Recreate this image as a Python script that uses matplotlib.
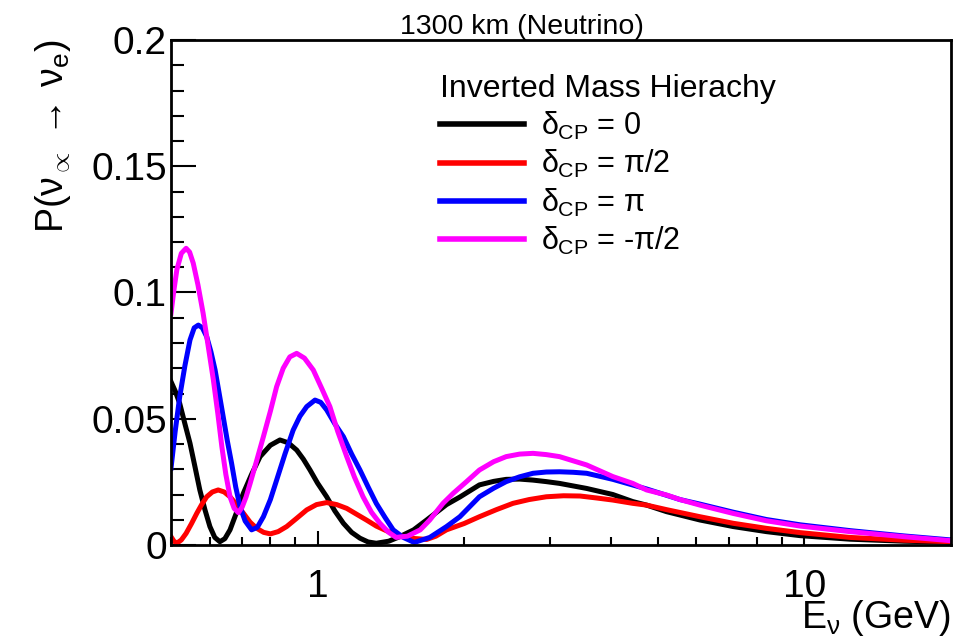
import matplotlib
matplotlib.use('Agg')
import matplotlib.pyplot as plt
import matplotlib.ticker as ticker

# values (E in GeV, probability)
e_black = [0.5, 0.51, 0.521, 0.534, 0.547, 0.56, 0.573, 0.587, 0.601, 0.615, 0.63, 0.645, 0.661, 0.682,
           0.704, 0.732, 0.762, 0.80, 0.837, 0.87, 0.906, 0.935, 0.965, 1.0, 1.044, 1.085, 1.13, 1.175,
           1.222, 1.27, 1.32, 1.4, 1.475, 1.575, 1.675, 1.84, 1.96, 2.15, 2.3, 2.44, 2.6, 2.77, 2.95,
           3.14, 3.57, 4.04, 4.44, 4.74, 5.21, 6.1, 7.14, 8.35, 9.8, 12.4, 16.0, 20.0]
p_black = [0.0647, 0.061, 0.0561, 0.048, 0.0403, 0.031, 0.0218, 0.014, 0.0073, 0.003, 0.0013, 0.0025,
           0.006, 0.013, 0.0205, 0.028, 0.035, 0.0395, 0.0416, 0.0405, 0.0376, 0.034, 0.0297, 0.0245,
           0.0191, 0.0135, 0.0086, 0.005, 0.0027, 0.0012, 0.0007, 0.0015, 0.0033, 0.006, 0.0099, 0.016,
           0.019, 0.0238, 0.0252, 0.026, 0.0261, 0.0257, 0.0251, 0.0244, 0.0224, 0.0200, 0.0172, 0.0158,
           0.0132, 0.0099, 0.0073, 0.0053, 0.0037, 0.0023, 0.0015, 0.0011]

e_red = [0.5, 0.507, 0.514, 0.525, 0.537, 0.551, 0.565, 0.578, 0.592, 0.608, 0.625, 0.643, 0.661, 0.682,
         0.704, 0.727, 0.75, 0.775, 0.80, 0.83, 0.864, 0.905, 0.95, 0.995, 1.044, 1.095, 1.148, 1.2, 1.26,
         1.32, 1.39, 1.47, 1.55, 1.675, 1.75, 1.84, 2.0, 2.15, 2.33, 2.52, 2.72, 2.95, 3.2, 3.46, 3.75,
         4.04, 4.44, 4.74, 5.21, 6.1, 7.14, 8.35, 9.8, 12.4, 16.0, 20.0]
p_red = [0.0033, 0.0015, 0.0007, 0.002, 0.0046, 0.0085, 0.0126, 0.016, 0.0191, 0.021, 0.0218, 0.021,
         0.0191, 0.016, 0.0126, 0.009, 0.0066, 0.005, 0.0044, 0.0053, 0.0073, 0.0105, 0.0139, 0.016,
         0.0168, 0.016, 0.0145, 0.0123, 0.0099, 0.0075, 0.0055, 0.0038, 0.0027, 0.0022, 0.0035, 0.006,
         0.0085, 0.0112, 0.014, 0.0165, 0.018, 0.0191, 0.0195, 0.0194, 0.0186, 0.0178, 0.0165, 0.0158,
         0.0140, 0.0112, 0.0086, 0.0066, 0.0049, 0.0030, 0.0019, 0.0013]

e_blue = [0.5, 0.51, 0.521, 0.534, 0.547, 0.558, 0.569, 0.58, 0.592, 0.604, 0.616, 0.628, 0.64, 0.653,
          0.666, 0.679, 0.693, 0.71, 0.732, 0.752, 0.774, 0.80, 0.824, 0.857, 0.891, 0.92, 0.95, 0.988,
          1.015, 1.044, 1.085, 1.13, 1.175, 1.222, 1.27, 1.32, 1.375, 1.43, 1.5, 1.58, 1.7, 1.84, 1.96,
          2.15, 2.3, 2.44, 2.6, 2.77, 2.95, 3.14, 3.35, 3.57, 3.8, 4.04, 4.74, 5.55, 6.1, 7.14, 8.35,
          9.8, 12.4, 16.0, 20.0]
p_blue = [0.0304, 0.045, 0.0587, 0.071, 0.0812, 0.086, 0.0871, 0.086, 0.0825, 0.0765, 0.0693, 0.060,
          0.0508, 0.041, 0.0323, 0.023, 0.0152, 0.0095, 0.006, 0.007, 0.0112, 0.018, 0.0257, 0.036,
          0.0455, 0.051, 0.0548, 0.0574, 0.0565, 0.0535, 0.048, 0.0429, 0.036, 0.0297, 0.023, 0.0165,
          0.011, 0.006, 0.003, 0.001, 0.003, 0.0073, 0.0112, 0.0191, 0.0225, 0.0251, 0.027, 0.0284,
          0.0289, 0.029, 0.0288, 0.0284, 0.0272, 0.0260, 0.0222, 0.0180, 0.0162, 0.0130, 0.0101, 0.0080,
          0.0057, 0.0036, 0.0020]

e_mag = [0.5, 0.507, 0.514, 0.525, 0.537, 0.546, 0.5555, 0.568, 0.582, 0.597, 0.611, 0.624, 0.636, 0.648,
         0.661, 0.674, 0.6875, 0.70, 0.713, 0.727, 0.75, 0.774, 0.80, 0.824, 0.85, 0.877, 0.906, 0.94,
         0.98, 1.02, 1.06, 1.10, 1.148, 1.19, 1.24, 1.29, 1.343, 1.40, 1.45, 1.53, 1.625, 1.70, 1.81,
         1.90, 2.02, 2.15, 2.3, 2.44, 2.6, 2.77, 2.95, 3.14, 3.57, 4.04, 4.44, 4.74, 5.21, 5.55, 6.1,
         7.14, 8.35, 9.8, 12.4, 16.0, 20.0]
p_mag = [0.0918, 0.101, 0.109, 0.1155, 0.1175, 0.116, 0.1116, 0.103, 0.0918, 0.078, 0.0653, 0.052,
         0.0389, 0.028, 0.0191, 0.0145, 0.0128, 0.015, 0.019, 0.0244, 0.0335, 0.0429, 0.053, 0.0627,
         0.070, 0.0745, 0.0759, 0.074, 0.0693, 0.062, 0.0548, 0.045, 0.035, 0.027, 0.0191, 0.013,
         0.0086, 0.005, 0.0030, 0.0035, 0.006, 0.0099, 0.0165, 0.0205, 0.025, 0.0297, 0.033, 0.035,
         0.036, 0.0363, 0.0358, 0.035, 0.0317, 0.0271, 0.0244, 0.0218, 0.0198, 0.0180, 0.0158, 0.0125,
         0.0096, 0.0075, 0.0053, 0.0033, 0.0017]

labels = [r'$\delta_{\rm CP}$ = 0', r'$\delta_{\rm CP}$ = $\pi$/2', r'$\delta_{\rm CP}$ = $\pi$',
          r'$\delta_{\rm CP}$ = -$\pi$/2']
colors = ['black', 'red', 'blue', 'magenta']

plt.rcParams['font.family'] = ['Liberation Sans', 'DejaVu Sans']
plt.rcParams['mathtext.fontset'] = 'custom'
plt.rcParams['mathtext.rm'] = 'Liberation Sans'
plt.rcParams['mathtext.it'] = 'Liberation Sans'
plt.rcParams['mathtext.bf'] = 'Liberation Sans:bold'
plt.rcParams['mathtext.sf'] = 'Liberation Sans'

fig = plt.figure(figsize=(9.63, 6.4), dpi=100)
ax = fig.add_axes([171 / 963, 95 / 640, 780 / 963, 505 / 640])

series = [(e_black, p_black), (e_red, p_red), (e_blue, p_blue), (e_mag, p_mag)]
for (e, p), c, lab in zip(series, colors, labels):
    ax.plot(e, p, color=c, lw=3.6, label=lab, solid_joinstyle='round')

ax.set_xscale('log')
ax.set_xlim(0.5, 20)
ax.set_ylim(0, 0.2)

ax.xaxis.set_major_locator(ticker.FixedLocator([1, 10]))
ax.xaxis.set_major_formatter(ticker.FixedFormatter(['1', '10']))
ax.xaxis.set_minor_locator(ticker.LogLocator(base=10, subs=range(2, 10), numticks=20))
ax.xaxis.set_minor_formatter(ticker.NullFormatter())
ax.yaxis.set_major_locator(ticker.MultipleLocator(0.05))
ax.yaxis.set_minor_locator(ticker.MultipleLocator(0.01))
ax.yaxis.set_major_formatter(ticker.FuncFormatter(lambda v, pos: '0' if v == 0 else ('%g' % v)))

ax.tick_params(axis='both', which='both', direction='in', top=False, right=False, width=1.5)
ax.tick_params(axis='y', which='major', length=18, labelsize=28, pad=3)
ax.tick_params(axis='y', which='minor', length=9)
ax.tick_params(axis='x', which='major', length=10, labelsize=28, pad=17)
ax.tick_params(axis='x', which='minor', length=6)
for s in ax.spines.values():
    s.set_linewidth(2)

ax.set_ylabel(r'P($\nu_{\propto}\,\rightarrow\,\nu_{\rm e}$)', fontsize=27, loc='top')
ax.yaxis.set_label_coords(-0.125, 1.0)
ax.set_xlabel(r'E$_{\nu}$ (GeV)', fontsize=27, loc='right')
ax.xaxis.set_label_coords(1.0, -0.105)

fig.text(522 / 963, 1 - 27 / 640, '1300 km (Neutrino)', fontsize=20.5, ha='center', va='center')

leg = ax.legend(loc='upper left', bbox_to_anchor=(440 / 963, 1 - 74 / 640), bbox_transform=fig.transFigure,
                frameon=False, fontsize=22, title='Inverted Mass Hierachy', title_fontsize=23,
                handlelength=2.75, handletextpad=0.55, labelspacing=0.2, borderpad=0, borderaxespad=0,
                alignment='left')
for line in leg.get_lines():
    line.set_linewidth(4)

fig.savefig('out.png', dpi=100)
